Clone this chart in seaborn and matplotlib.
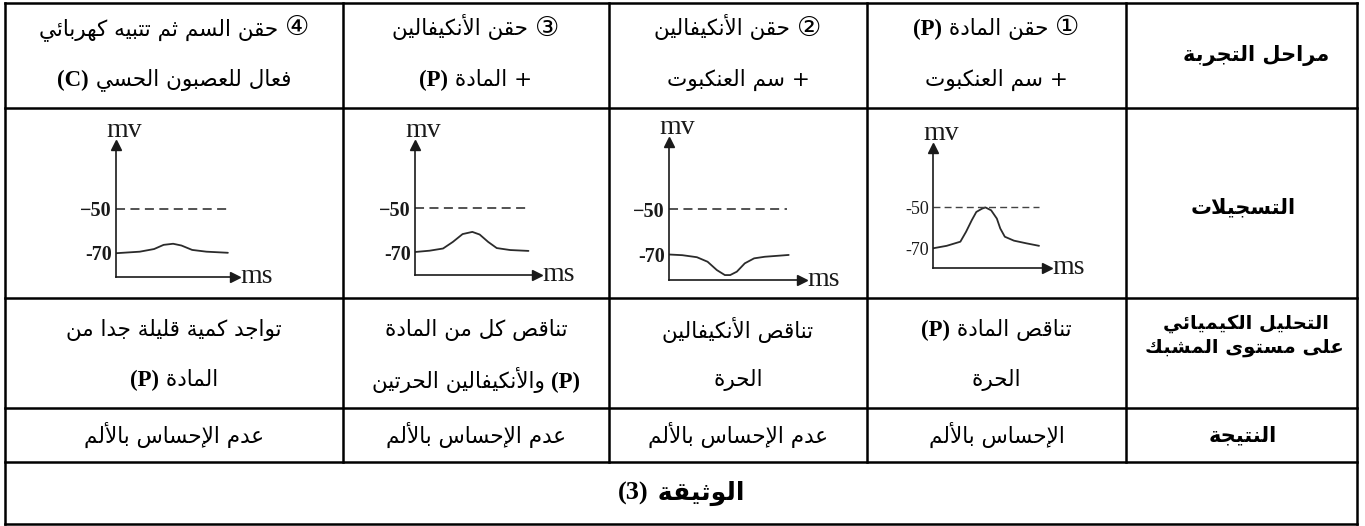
import re
import matplotlib
matplotlib.use("Agg")
import matplotlib.pyplot as plt
import seaborn as sns
from matplotlib.offsetbox import TextArea, HPacker, AnnotationBbox

# Table texts (logical order, right-to-left)
ROW_HEADERS = [["مراحل التجربة"], ["التسجيلات"],
               ["التحليل الكيميائي", "على مستوى المشبك"], ["النتيجة"]]
STAGES = [
    ["① حقن المادة (P)", "+ سم العنكبوت"],
    ["② حقن الأنكيفالين", "+ سم العنكبوت"],
    ["③ حقن الأنكيفالين", "+ المادة (P)"],
    ["④ حقن السم ثم تتبيه كهربائي", "فعال للعصبون الحسي (C)"],
]
ANALYSIS = [
    ["تناقص المادة (P)", "الحرة"],
    ["تناقص الأنكيفالين", "الحرة"],
    ["تناقص كل من المادة", "(P) والأنكيفالين الحرتين"],
    ["تواجد كمية قليلة جدا من", "المادة (P)"],
]
RESULTS = ["الإحساس بالألم", "عدم الإحساس بالألم", "عدم الإحساس بالألم", "عدم الإحساس بالألم"]
CAPTION = "الوثيقة (3)"

REC1_T = [0, 1.2, 2.4, 2.9, 3.4, 3.8, 4.3, 4.6, 5.1, 5.6, 5.9, 6.3, 7.1, 8.2, 9.3]
REC1_V = [-70, -68.8, -66.8, -62, -56.4, -52.4, -50.8, -50.2, -51.6, -55.6, -60.4, -64.4, -66.3, -67.6, -68.8]
REC2_T = [0, 1.0, 2.1, 2.9, 3.6, 4.2, 4.6, 5.1, 5.7, 6.4, 7.2, 9.0]
REC2_V = [-70, -70.3, -71.2, -73.2, -76.9, -79.1, -79.1, -77.6, -73.9, -71.7, -71, -70.2]
REC3_T = [0, 1.2, 2.3, 3.1, 3.9, 4.7, 5.3, 6.0, 6.7, 7.8, 9.3]
REC3_V = [-70, -69.4, -68.4, -65.4, -61.8, -60.8, -62, -65.4, -68.2, -69.1, -69.5]
REC4_T = [0, 2.0, 3.2, 4.0, 4.8, 5.5, 6.4, 7.6, 9.4]
REC4_V = [-70.1, -69.4, -68.2, -66.3, -65.8, -66.6, -68.6, -69.4, -69.9]
RECORDINGS = [(REC1_T, REC1_V), (REC2_T, REC2_V), (REC3_T, REC3_V), (REC4_T, REC4_V)]
THRESHOLD, REST = -50, -70
THRESH_END = [9.3, 8.9, 9.3, 9.3]
TICK_LABELS = [["-50", "-70"], ["−50", "-70"], ["−50", "-70"], ["−50", "-70"]]

# Layout (pixels)
W, H = 1365, 526
COLS = [(867, 1126), (609, 867), (343, 609), (5, 343)]  # stage 1..4, right to left
HEAD_X = 1243
ROWS = [3, 108, 298, 408, 462, 524]
# y-axis x, arrow tip x, x-axis y, arrow tip y, y of -50, y of -70
FRAMES = [(933, 1047, 268, 148, 207, 248.3),
          (669, 802, 280, 142, 209.3, 254.5),
          (415, 537, 275, 145, 208.3, 252),
          (116, 235, 277, 145, 209, 253)]

# --- minimal arabic shaping (matplotlib draws glyphs left to right, unjoined) ---
AR_FORMS = {}
_cp = 0xFE80
for code, n in [(0x621, 1), (0x622, 2), (0x623, 2), (0x624, 2), (0x625, 2), (0x626, 4),
                (0x627, 2), (0x628, 4), (0x629, 2), (0x62A, 4), (0x62B, 4), (0x62C, 4),
                (0x62D, 4), (0x62E, 4), (0x62F, 2), (0x630, 2), (0x631, 2), (0x632, 2),
                (0x633, 4), (0x634, 4), (0x635, 4), (0x636, 4), (0x637, 4), (0x638, 4),
                (0x639, 4), (0x63A, 4), (0x641, 4), (0x642, 4), (0x643, 4), (0x644, 4),
                (0x645, 4), (0x646, 4), (0x647, 4), (0x648, 2), (0x649, 2), (0x64A, 4)]:
    AR_FORMS[chr(code)] = [chr(_cp + k) for k in range(n)]
    _cp += n
LAM_ALEF = {"آ": "\uFEF5\uFEF6", "أ": "\uFEF7\uFEF8", "إ": "\uFEF9\uFEFA", "ا": "\uFEFB\uFEFC"}


def shape(s):
    toks, i = [], 0
    while i < len(s):
        if s[i] == "ل" and i + 1 < len(s) and s[i + 1] in LAM_ALEF:
            toks.append(("LA", s[i + 1]))
            i += 2
        else:
            toks.append(s[i])
            i += 1

    def kind(t):
        if isinstance(t, tuple):
            return "R"
        f = AR_FORMS.get(t)
        return None if f is None else {1: "U", 2: "R", 4: "D"}[len(f)]

    out = []
    for j, t in enumerate(toks):
        k = kind(t)
        if k is None:
            out.append(t)
            continue
        prev = kind(toks[j - 1]) if j > 0 else None
        nxt = kind(toks[j + 1]) if j + 1 < len(toks) else None
        jp = prev == "D" and k != "U"
        jn = k == "D" and nxt in ("D", "R")
        if isinstance(t, tuple):
            out.append(LAM_ALEF[t[1]][1 if jp else 0])
        elif k == "U":
            out.append(AR_FORMS[t][0])
        elif k == "R":
            out.append(AR_FORMS[t][1 if jp else 0])
        else:
            out.append(AR_FORMS[t][[0, 2, 1, 3][jp * 2 + jn]])
    return "".join(reversed(out))


SPLIT = re.compile(r"(\([A-Z0-9]\)|[①-④])")


def rich_text(ax, x, y, line, size=15.5, bold=False):
    parts = [p for p in SPLIT.split(line) if p]
    boxes = []
    for p in reversed(parts):
        if p.startswith("("):
            props = dict(family="Liberation Serif", weight="bold", size=size + 1, color="black")
            boxes.append(TextArea(p, textprops=props))
        elif p in "①②③④":
            props = dict(family=["DejaVu Sans", "Noto Sans CJK SC"], size=size + 4, color="black")
            boxes.append(TextArea(p, textprops=props))
        else:
            props = dict(family=["DejaVu Sans", "Noto Sans CJK SC"], size=size,
                         weight="bold" if bold else "normal", color="black")
            boxes.append(TextArea(shape(p), textprops=props))
    pack = HPacker(children=boxes, align="baseline", pad=0, sep=0)
    ax.add_artist(AnnotationBbox(pack, (x, y), xycoords="data", frameon=False,
                                 box_alignment=(0.5, 0.5), pad=0))


sns.set_theme(style="white")
plt.rcParams["font.family"] = ["DejaVu Sans", "Noto Sans CJK SC"]

fig = plt.figure(figsize=(W / 100, H / 100), dpi=100)
bg = fig.add_axes([0, 0, 1, 1])
bg.set_xlim(0, W)
bg.set_ylim(H, 0)
bg.axis("off")

# grid
lw = 1.8
for y in ROWS:
    bg.plot([5, 1357], [y, y], color="black", lw=lw, solid_capstyle="projecting")
for x in [5, 343, 609, 867, 1126, 1357]:
    y1 = ROWS[-1] if x in (5, 1357) else ROWS[-2]
    bg.plot([x, x], [ROWS[0], y1], color="black", lw=lw, solid_capstyle="projecting")

# row headers
rich_text(bg, 1256, 55, ROW_HEADERS[0][0], size=15, bold=True)
rich_text(bg, HEAD_X, 207, ROW_HEADERS[1][0], size=15, bold=True)
rich_text(bg, 1246, 323, ROW_HEADERS[2][0], size=14, bold=True)
rich_text(bg, 1244, 347, ROW_HEADERS[2][1], size=14, bold=True)
rich_text(bg, HEAD_X, 435, ROW_HEADERS[3][0], size=15, bold=True)

for i, (x0, x1) in enumerate(COLS):
    xc = (x0 + x1) / 2
    rich_text(bg, xc, 28, STAGES[i][0])
    rich_text(bg, xc, 80, STAGES[i][1])
    rich_text(bg, xc, 330, ANALYSIS[i][0])
    rich_text(bg, xc, 380, ANALYSIS[i][1])
    rich_text(bg, xc, 435, RESULTS[i])

rich_text(bg, (5 + 1357) / 2, 493, CAPTION, size=18, bold=True)

# recordings
for i, (t, v) in enumerate(RECORDINGS):
    xa, xt, ya, yt, y50, y70 = FRAMES[i]
    s = (y70 - y50) / (THRESHOLD - REST)
    vb = THRESHOLD - (ya - y50) / s
    vt = THRESHOLD + (y50 - yt) / s
    ax = fig.add_axes([xa / W, 1 - ya / H, (xt - xa) / W, (ya - yt) / H])
    ax.set_facecolor("none")
    ax.set_xlim(0, 10)
    ax.set_ylim(vb, vt)
    sns.lineplot(x=t, y=v, ax=ax, color="#2b2b2b", linewidth=1.3, estimator=None, sort=False)
    ax.hlines(THRESHOLD, 0, THRESH_END[i], colors="#444444", linewidth=1.0 if i == 0 else 1.3,
              linestyles=(0, (5, 3)))
    sns.despine(ax=ax)
    for side in ("left", "bottom"):
        ax.spines[side].set_color("#1a1a1a")
        ax.spines[side].set_linewidth(1.2)
    ax.plot(0, 1, marker="^", color="#1a1a1a", markersize=7, transform=ax.transAxes, clip_on=False)
    ax.plot(1, 0, marker=">", color="#1a1a1a", markersize=7, transform=ax.transAxes, clip_on=False)
    ax.set_xticks([])
    ax.set_yticks([THRESHOLD, REST])
    bold = "normal" if i == 0 else "bold"
    ax.set_yticklabels(TICK_LABELS[i], fontfamily="Liberation Serif", fontsize=13 if i == 0 else 14.5,
                       fontweight=bold, color="#1a1a1a")
    ax.tick_params(axis="y", length=0, pad=3)
    ax.set_xlabel("")
    ax.set_ylabel("")
    ax.annotate("mv", xy=(0, 1), xycoords="axes fraction", xytext=(6, 6), textcoords="offset points",
                ha="center", va="baseline", fontfamily="Liberation Serif", fontsize=20, color="#1a1a1a")
    ax.annotate("ms", xy=(1, 0), xycoords="axes fraction", xytext=(4, -4), textcoords="offset points",
                ha="left", va="baseline", fontfamily="Liberation Serif", fontsize=20, color="#1a1a1a")

fig.savefig("out.png", dpi=100)
